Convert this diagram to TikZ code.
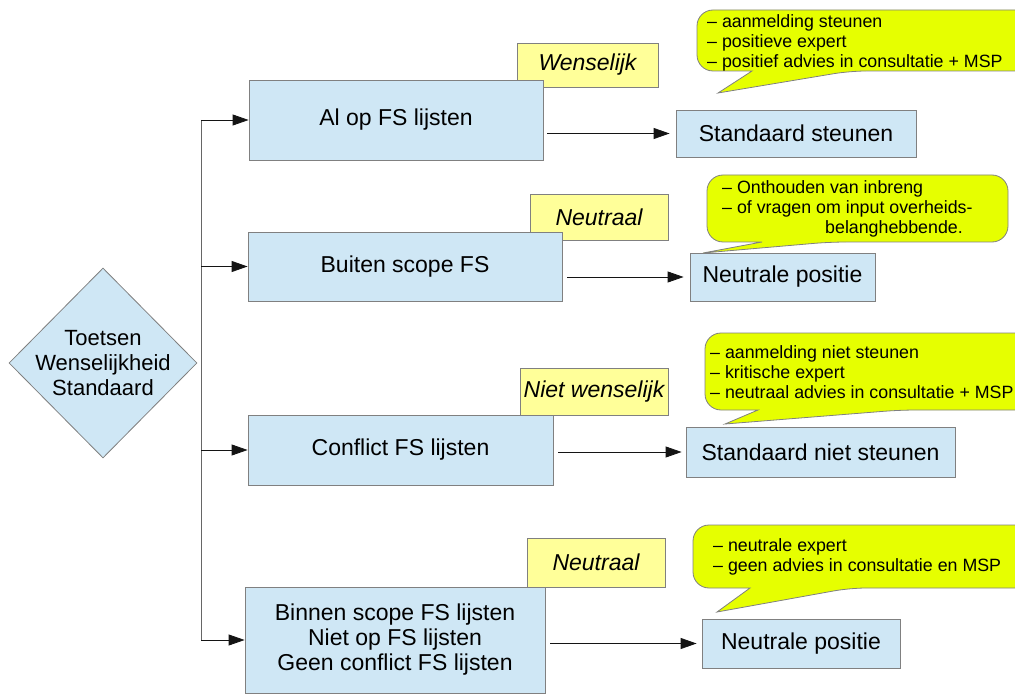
\documentclass[tikz,border=0pt]{standalone}
\usepackage{fontspec}
\setmainfont{Liberation Sans}
\usetikzlibrary{shapes.geometric, arrows.meta}
\definecolor{boxblue}{RGB}{207, 231, 245}
\definecolor{edgegray}{RGB}{128, 128, 128}
\definecolor{tagyellow}{RGB}{255, 255, 153}
\definecolor{bubbleyellow}{RGB}{230, 255, 0}
\definecolor{linedark}{RGB}{20, 20, 20}

\begin{document}
\begin{tikzpicture}[
    x=1pt, y=-1pt,
    choice/.style={rectangle, draw=edgegray, fill=boxblue, align=center, inner sep=0pt, font=\fontsize{23}{25}\selectfont, line width=0.8pt},
    tag/.style={rectangle, draw=edgegray, fill=tagyellow, inner sep=0pt, font=\fontsize{23}{25}\selectfont\itshape, line width=0.8pt},
    bubble/.style={draw=edgegray, fill=bubbleyellow, line width=0.8pt},
    bubbletext/.style={anchor=west, align=left, inner sep=0pt, font=\fontsize{17.8}{20}\selectfont},
    arrow/.style={-{Triangle[length=16pt, width=11pt]}, line width=0.8pt, color=linedark},
]
\useasboundingbox (0,0) rectangle (1015,695);

% Decision
\node[diamond, draw=edgegray, fill=boxblue, minimum width=188pt, minimum height=190pt, inner sep=0pt, line width=0.8pt] (toets) at (103,363) {};
\node[align=center, inner sep=0pt, font=\fontsize{22}{25}\selectfont] (toetstext) at (toets.center) {Toetsen\\Wenselijkheid\\Standaard};

% Tags (behind the boxes)
\node[tag, minimum width=141pt, minimum height=44pt] (tagwens) at (587.5,65) {Wenselijk};
\node[tag, minimum width=138pt, minimum height=46pt] (tagneutr) at (599,217) {Neutraal};
\node[tag, minimum width=148pt, minimum height=47pt] (tagniet) at (594,391.5) {Niet wenselijk};
\node[tag, minimum width=138pt, minimum height=49pt] (tagneutrb) at (596,562.5) {Neutraal};

% Cases
\node[choice, minimum width=294pt, minimum height=80pt] (alop) at (396,120) {Al op FS lijsten};
\node[choice, minimum width=314pt, minimum height=69pt] (buiten) at (405,266.5) {Buiten scope FS};
\node[choice, minimum width=305pt, minimum height=70pt] (conflict) at (400.5,450) {Conflict FS lijsten};
\node[choice, minimum width=300pt, minimum height=106pt] (binnen) at (395,640) {Binnen scope FS lijsten\\Niet op FS lijsten\\Geen conflict FS lijsten};

% Outcomes
\node[choice, minimum width=240pt, minimum height=47pt] (steunen) at (796,133.5) {Standaard steunen};
\node[choice, minimum width=185pt, minimum height=48pt] (neutraal) at (782.5,277) {Neutrale positie};
\node[choice, minimum width=269pt, minimum height=50pt] (nietsteunen) at (820.5,452) {Standaard niet steunen};
\node[choice, minimum width=198pt, minimum height=49pt] (neutraalb) at (801,643.5) {Neutrale positie};

% Spine from the decision
\coordinate (spinetop) at (201,120);
\coordinate (spinebot) at (201,640);
\draw[line width=0.8pt, color=edgegray!80!black] (spinetop) -- (spinebot);
\draw[arrow] (alop.west -| spinetop) -- (alop.west);
\draw[arrow] (buiten.west -| spinetop) -- (buiten.west);
\draw[arrow] (conflict.west -| spinetop) -- (conflict.west);
\draw[arrow] (binnen.west -| spinetop) -- (binnen.west);

% Case to outcome
\draw[arrow, shorten <=4pt, shorten >=6pt] (alop.east |- steunen) -- (steunen.west);
\draw[arrow, shorten <=5pt, shorten >=6pt] (buiten.east |- neutraal) -- (neutraal.west);
\draw[arrow, shorten <=5pt, shorten >=4pt] (conflict.east |- nietsteunen) -- (nietsteunen.west);
\draw[arrow, shorten <=5pt, shorten >=5pt] (binnen.east |- neutraalb) -- (neutraalb.west);

% Callouts
\draw[bubble] (718,93) -- (752,71) [rounded corners=16pt] -- (697,71) -- (697,10) -- (1040,10) -- (1040,71) -- (850,71) [sharp corners] -- cycle;
\node[bubbletext] (notewens) at (707,43) {-- aanmelding steunen\\-- positieve expert\\-- positief advies in consultatie + MSP};

\draw[bubble] (703,253) -- (762,242) [rounded corners=16pt] -- (707,242) -- (707,175) -- (1008,175) -- (1008,242) -- (830,242) [sharp corners] -- cycle;
\node[bubbletext] (noteneutr) at (722,209) {-- Onthouden van inbreng\\-- of vragen om input overheids-\\\hspace*{103pt}belanghebbende.};

\draw[bubble] (725,424) -- (758,410) [rounded corners=16pt] -- (705,410) -- (705,333) -- (1040,333) -- (1040,410) -- (900,410) [sharp corners] -- cycle;
\node[bubbletext] (noteniet) at (710,372) {-- aanmelding niet steunen\\-- kritische expert\\-- neutraal advies in consultatie + MSP};

\draw[bubble] (717,612) -- (750,588) [rounded corners=16pt] -- (693,588) -- (693,525) -- (1040,525) -- (1040,588) -- (850,588) [sharp corners] -- cycle;
\node[bubbletext] (noteneutrb) at (713,557) {-- neutrale expert\\-- geen advies in consultatie en MSP};

\end{tikzpicture}
\end{document}
